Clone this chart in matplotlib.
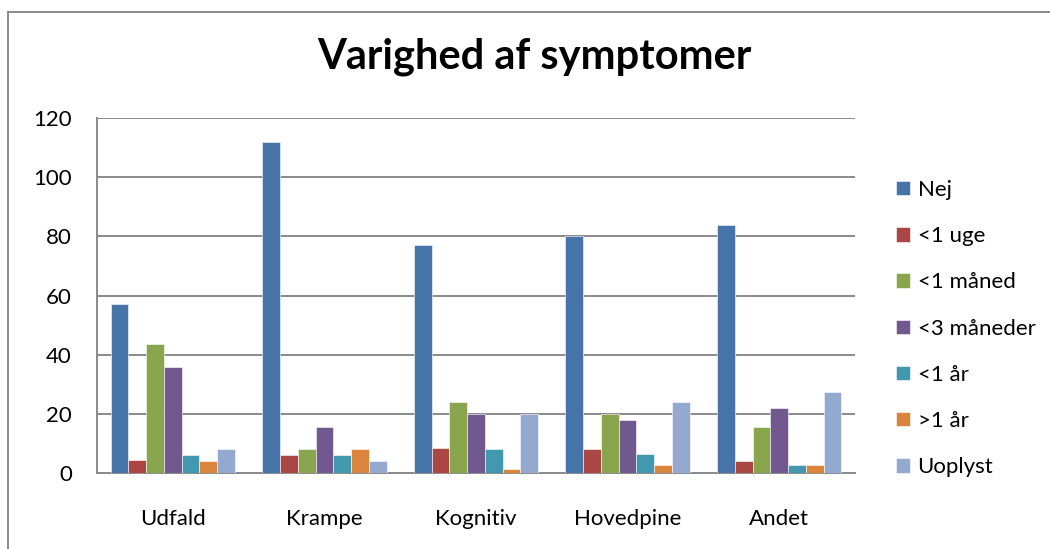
import matplotlib
matplotlib.use("Agg")
import matplotlib.pyplot as plt
from matplotlib.lines import Line2D
import numpy as np

plt.rcParams['font.family'] = ['Lato', 'DejaVu Sans']

categories = ['Udfald', 'Krampe', 'Kognitiv', 'Hovedpine', 'Andet']
series = ['Nej', '<1 uge', '<1 måned', '<3 måneder', '<1 år', '>1 år', 'Uoplyst']
nej = [57, 112, 77, 80, 84]
uge1 = [4.5, 6, 8.5, 8, 4]
maaned1 = [43.5, 8, 24, 20, 15.5]
maaneder3 = [36, 15.5, 20, 18, 22]
aar1_under = [6, 6, 8, 6.5, 2.6]
aar1_over = [4, 8, 1.5, 2.6, 2.6]
uoplyst = [8, 4, 20, 24, 27.5]
values = [nej, uge1, maaned1, maaneder3, aar1_under, aar1_over, uoplyst]
colors = ['#4674A8', '#AA4744', '#89A54E', '#71588F', '#4198AF', '#DB843D', '#93A9CF']

W, H = 1050, 549
fig = plt.figure(figsize=(W / 100, H / 100), dpi=100)
ax = fig.add_axes([97 / W, 1 - 473 / H, 758 / W, (473 - 118) / H])

x = np.arange(len(categories))
group = 0.82
bw = group / len(series)
for i, (name, vals) in enumerate(zip(series, values)):
    ax.bar(x - group / 2 + bw * (i + 0.5), vals, width=bw, color=colors[i],
           edgecolor='white', linewidth=0.4, label=name, zorder=3)

ax.set_xlim(-0.5, len(categories) - 0.5)
ax.set_ylim(0, 120)
ax.set_yticks(range(0, 121, 20))
ax.set_xticks(x)
ax.set_xticklabels(categories)
ax.tick_params(axis='x', length=0, labelsize=16, pad=26)
ax.tick_params(axis='y', length=0, labelsize=16, pad=18)
ax.yaxis.grid(True, color='#8A8A8A', linewidth=1.4, zorder=0)
for s in ['top', 'right']:
    ax.spines[s].set_visible(False)
for s in ['left', 'bottom']:
    ax.spines[s].set_color('#8A8A8A')
    ax.spines[s].set_linewidth(1.4)

fig.text(534 / W, 1 - 57 / H, 'Varighed af symptomer', ha='center', va='center',
         fontsize=30, fontweight='bold')

fig.legend(loc='upper left', bbox_to_anchor=(876 / W, 1 - 160 / H), frameon=False,
           fontsize=16, handlelength=0.62, handleheight=0.62, handletextpad=0.35,
           labelspacing=1.18)

# chart frame
fig.add_artist(Line2D([8 / W, 1], [1 - 12 / H, 1 - 12 / H], color='#8A8A8A', linewidth=1.4))
fig.add_artist(Line2D([8 / W, 8 / W], [0, 1 - 12 / H], color='#8A8A8A', linewidth=1.4))

fig.savefig('out.png', dpi=100)
